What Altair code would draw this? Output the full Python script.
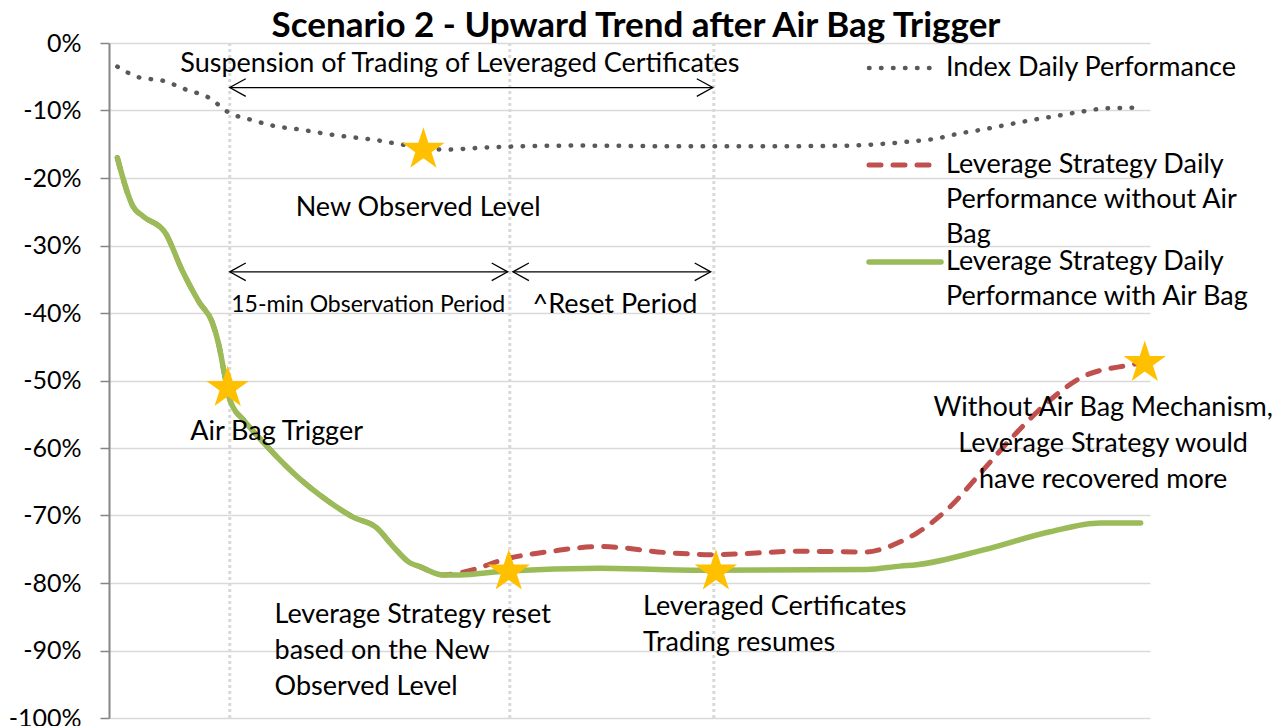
import altair as alt
import pandas as pd

# ---------------- data (x: time units 0-100, y: performance in %) ----------------
index_t = [0.8, 2.9, 5.2, 7.4, 9.6, 11.5, 13.7, 15.9, 18.3, 20.6, 23.0, 25.3, 27.6, 30.0, 32.3,
           36.0, 45.0, 55.0, 63.0, 71.2, 74.7, 76.9, 79.3, 81.7, 84.0, 86.3, 88.7, 91.0, 93.3,
           95.6, 97.9, 99.1]
index_v = [-3.5, -5.1, -5.6, -6.9, -8.1, -10.3, -11.4, -12.3, -12.8, -13.4, -13.9, -14.3, -14.9,
           -15.5, -15.8, -15.5, -15.2, -15.3, -15.3, -15.2, -14.9, -14.6, -14.2, -13.4, -12.8,
           -12.1, -11.4, -10.8, -10.2, -9.7, -9.6, -9.6]

with_t = [0.8, 2.3, 3.3, 5.4, 7.0, 8.7, 9.9, 10.5, 11.2, 11.6, 11.9, 12.9, 15.2, 17.7, 20.9,
          23.4, 25.7, 27.3, 28.9, 29.9, 32.1, 33.7, 37.6, 47.2, 56.8, 72.8, 76.0, 77.6, 84.0,
          90.4, 95.2, 99.1]
with_v = [-17.0, -24.2, -25.7, -28.1, -33.6, -38.5, -41.3, -44.4, -49.9, -52.8, -53.9, -55.8,
          -59.8, -63.7, -67.7, -70.2, -71.8, -74.6, -77.0, -77.6, -78.8, -78.8, -78.3, -77.8,
          -78.1, -78.0, -77.5, -77.3, -75.1, -72.4, -71.1, -71.1]

without_t = [0.8, 2.3, 3.3, 5.4, 7.0, 8.7, 9.9, 10.5, 11.2, 11.6, 11.9, 12.9, 15.2, 17.7, 20.9,
             23.4, 25.7, 27.3, 28.9, 29.9, 32.1, 34.0, 38.5, 42.5, 47.2, 53.6, 58.0, 66.4, 72.8,
             74.4, 76.0, 77.6, 80.8, 84.0, 87.2, 90.4, 93.6, 98.1, 99.1]
without_v = [-17.0, -24.2, -25.7, -28.1, -33.6, -38.5, -41.3, -44.4, -49.9, -52.8, -53.9, -55.8,
             -59.8, -63.7, -67.7, -70.2, -71.8, -74.6, -77.0, -77.6, -78.8, -78.4, -76.3, -75.3,
             -74.6, -75.5, -75.8, -75.3, -75.4, -74.9, -73.9, -72.6, -68.7, -63.2, -57.7, -52.9,
             -49.4, -47.7, -47.4]

star_t = [11.4, 30.2, 38.4, 58.3, 99.5]
star_v = [-51.1, -15.8, -78.3, -78.3, -47.4]

event_t = [11.6, 38.5, 58.1]          # vertical dotted markers

arrow_start = [11.6, 11.6, 38.8]
arrow_end = [58.0, 38.3, 57.8]
arrow_level = [-6.6, -33.9, -33.9]

note_text = ["Suspension of Trading of Leveraged Certificates", "New Observed Level",
             "Air Bag Trigger", "^Reset Period"]
note_t = [33.7, 29.7, 16.1, 48.6]
note_v = [-3.1, -24.4, -57.6, -38.8]

small_text = ["15-min Observation Period"]
small_t = [24.9]
small_v = [-38.8]

block_text = ["Leverage Strategy reset\nbased on the New\nObserved Level",
              "Leveraged Certificates\nTrading resumes"]
block_t = [15.9, 51.3]
block_v = [-84.7, -83.5]

right_text = ["Without Air Bag Mechanism,\nLeverage Strategy would\nhave recovered more"]
right_t = [95.5]
right_v = [-54.0]

series_names = ["Index Daily Performance",
                "Leverage Strategy Daily\nPerformance without Air\nBag",
                "Leverage Strategy Daily\nPerformance with Air Bag"]

title_text = "Scenario 2 - Upward Trend after Air Bag Trigger"

y_ticks = list(range(-100, 1, 10))

# ---------------- styling ----------------
FONT = "Lato"
GREEN = "#9BBB59"
RED = "#C0504D"
GRAY = "#595959"
GOLD = "#FFC000"
W, H = 1041, 675
STAR = ("M0,-1L0.2245,-0.309L0.951,-0.309L0.363,0.118L0.588,0.809L0,0.382"
        "L-0.588,0.809L-0.363,0.118L-0.951,-0.309L-0.2245,-0.309Z")

xs = alt.X("t:Q", scale=alt.Scale(domain=[0, 100]), axis=None)
ys = alt.Y("v:Q", scale=alt.Scale(domain=[-100, 0]),
           axis=alt.Axis(values=y_ticks, labelExpr="datum.value + '%'", title=None,
                         grid=True, gridColor="#D9D9D9", gridWidth=1.5,
                         domainColor="#868686", domainWidth=2,
                         tickColor="#868686", tickSize=9, tickWidth=1.5,
                         labelFont=FONT, labelFontSize=25, labelColor="#000000",
                         labelPadding=19))

df_index = pd.DataFrame({"t": index_t, "v": index_v})
df_with = pd.DataFrame({"t": with_t, "v": with_v})
df_without = pd.DataFrame({"t": without_t, "v": without_v})
df_star = pd.DataFrame({"t": star_t, "v": star_v})
df_event = pd.DataFrame({"t": event_t})
df_arrow = pd.DataFrame({"t": arrow_start, "t2": arrow_end, "v": arrow_level})
df_note = pd.DataFrame({"t": note_t, "v": note_v, "label": note_text})
df_small = pd.DataFrame({"t": small_t, "v": small_v, "label": small_text})
df_block = pd.DataFrame({"t": block_t, "v": block_v, "label": block_text})
df_right = pd.DataFrame({"t": right_t, "v": right_v, "label": right_text})
df_title = pd.DataFrame({"label": [title_text]})

events = alt.Chart(df_event).mark_rule(color="#D9D9D9", strokeWidth=3,
                                       strokeDash=[3, 3]).encode(x=xs)

axis_layer = alt.Chart(df_index).mark_line(opacity=0).encode(x=xs, y=ys)

index_line = alt.Chart(df_index).mark_line(
    interpolate="monotone", color=GRAY, strokeWidth=4.5, strokeDash=[0.5, 11.5],
    strokeCap="round").encode(x=xs, y=ys)

without_line = alt.Chart(df_without).mark_line(
    interpolate="monotone", color=RED, strokeWidth=5, strokeDash=[12, 12],
    strokeCap="round").encode(x=xs, y=ys)

with_line = alt.Chart(df_with).mark_line(
    interpolate="monotone", color=GREEN, strokeWidth=5.5, strokeCap="round").encode(x=xs, y=ys)

stars = alt.Chart(df_star).mark_point(shape=STAR, filled=True, color=GOLD, size=2000,
                                      opacity=1, strokeWidth=0).encode(x=xs, y=ys)

arrow_shaft = alt.Chart(df_arrow).mark_rule(color="#000000", strokeWidth=1.3).encode(
    x=xs, x2="t2:Q", y=ys)
head_left = alt.Chart(df_arrow).mark_point(
    shape="M2,-1.1L0,0L2,1.1", filled=False, color="#000000", strokeWidth=1.3,
    size=256, opacity=1).encode(x=xs, y=ys)
head_right = alt.Chart(df_arrow).mark_point(
    shape="M-2,-1.1L0,0L-2,1.1", filled=False, color="#000000", strokeWidth=1.3,
    size=256, opacity=1).encode(x=alt.X("t2:Q", scale=alt.Scale(domain=[0, 100]), axis=None),
                                y=ys)

notes = alt.Chart(df_note).mark_text(font=FONT, fontSize=27, color="#000000",
                                     align="center", baseline="middle").encode(
    x=xs, y=ys, text="label:N")
small_notes = alt.Chart(df_small).mark_text(font=FONT, fontSize=23, color="#000000",
                                            align="center", baseline="middle").encode(
    x=xs, y=ys, text="label:N")
block_notes = alt.Chart(df_block).mark_text(font=FONT, fontSize=27, color="#000000",
                                            align="left", baseline="middle",
                                            lineBreak="\n", lineHeight=36).encode(
    x=xs, y=ys, text="label:N")
right_notes = alt.Chart(df_right).mark_text(font=FONT, fontSize=27, color="#000000",
                                            align="center", baseline="middle",
                                            lineBreak="\n", lineHeight=36).encode(
    x=xs, y=ys, text="label:N")

# ---------------- title (drawn as a text mark above the plot) ----------------
title = alt.Chart(df_title).mark_text(
    font=FONT, fontSize=35, fontWeight="bold", color="#000000", align="center",
    baseline="alphabetic").encode(x=alt.value(527), y=alt.value(-6), text="label:N")

# ---------------- legend (drawn manually, top-right) ----------------
leg = pd.DataFrame({"name": series_names})
LX0, LX1, LTX = 758, 826, 837
leg_index = alt.Chart(leg.iloc[[0]]).mark_rule(
    color=GRAY, strokeWidth=4.5, strokeDash=[0.5, 11.5], strokeCap="round").encode(
    x=alt.value(LX0 + 2), x2=alt.value(LX1), y=alt.value(25))
leg_red = alt.Chart(leg.iloc[[1]]).mark_rule(
    color=RED, strokeWidth=5, strokeDash=[12, 12], strokeCap="round").encode(
    x=alt.value(LX0 + 2), x2=alt.value(LX1 + 6), y=alt.value(122))
leg_green = alt.Chart(leg.iloc[[2]]).mark_rule(
    color=GREEN, strokeWidth=5.5, strokeCap="round").encode(
    x=alt.value(LX0 + 2), x2=alt.value(LX1 + 6), y=alt.value(219))
leg_t0 = alt.Chart(leg.iloc[[0]]).mark_text(
    font=FONT, fontSize=27, align="left", baseline="middle", color="#000000").encode(
    x=alt.value(LTX), y=alt.value(25), text="name:N")
leg_t1 = alt.Chart(leg.iloc[[1]]).mark_text(
    font=FONT, fontSize=27, align="left", baseline="middle", color="#000000",
    lineBreak="\n", lineHeight=35).encode(
    x=alt.value(LTX), y=alt.value(122), text="name:N")
leg_t2 = alt.Chart(leg.iloc[[2]]).mark_text(
    font=FONT, fontSize=27, align="left", baseline="middle", color="#000000",
    lineBreak="\n", lineHeight=35).encode(
    x=alt.value(LTX), y=alt.value(219), text="name:N")

chart = alt.layer(
    axis_layer, events, index_line, without_line, with_line, arrow_shaft, head_left,
    head_right, notes, small_notes, block_notes, right_notes, stars, title,
    leg_index, leg_red, leg_green, leg_t0, leg_t1, leg_t2
).properties(
    width=W, height=H,
    autosize=alt.AutoSizeParams(type="none"),
    padding={"left": 101, "top": 35, "right": 125, "bottom": 8},
).configure_view(strokeWidth=0, stroke="transparent")

chart.save("out.html", embed_options={"renderer": "svg", "actions": False})
